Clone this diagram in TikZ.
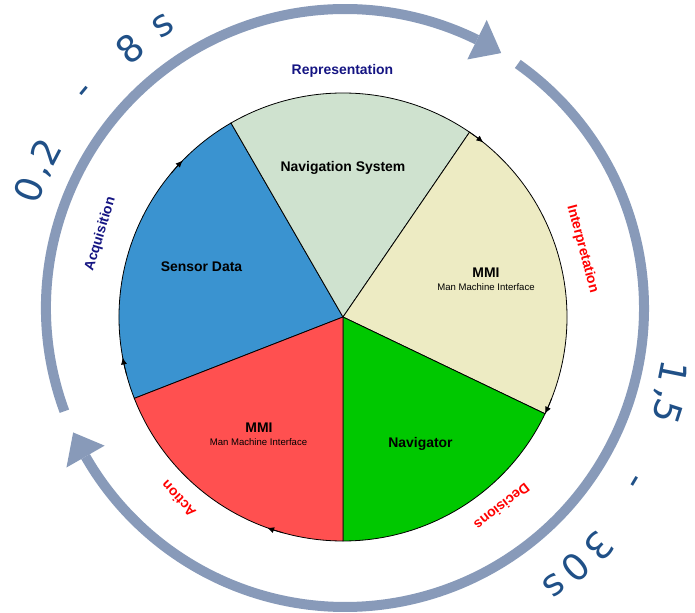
\documentclass[tikz,border=0pt]{standalone}
\usepackage{fontspec}
\setmainfont{Liberation Sans}
\newfontfamily\ringfont{DejaVu Sans}
\usetikzlibrary{arrows.meta}
\definecolor{ringc}{RGB}{136,154,185}
\definecolor{ringtxt}{RGB}{32,80,135}
\definecolor{cblue}{RGB}{58,147,208}
\definecolor{clgreen}{RGB}{207,226,207}
\definecolor{cbeige}{RGB}{237,235,195}
\definecolor{cgreen}{RGB}{0,200,0}
\definecolor{cred}{RGB}{255,80,80}
\definecolor{navyc}{RGB}{20,20,130}
\definecolor{lred}{RGB}{255,0,0}
\begin{document}
\begin{tikzpicture}[x=1bp,y=1bp,
  wedge/.style={draw=black, line width=0.8bp},
  rtxt/.style={anchor=base, inner sep=0pt, text=ringtxt, font=\ringfont\fontsize{37}{37}\selectfont},
  phase/.style={inner sep=0pt, font=\bfseries\fontsize{14}{16}\selectfont},
  plabel/.style={inner sep=0pt, font=\bfseries\fontsize{14}{16}\selectfont},
  psub/.style={inner sep=0pt, font=\fontsize{9.6}{11}\selectfont},
  ringarc/.style={draw=ringc, line width=10bp},
  cyc/.style={line width=0.8bp, -{Latex[length=7bp,width=6bp]}}]
\useasboundingbox (0,0) rectangle (695,613);
\coordinate (P) at (343,296);
\coordinate (R) at (345,305);
% pie wedges
\filldraw[wedge, fill=cblue] (P) -- ([shift={(P)}]120:224bp) arc[start angle=120, end angle=201.3, radius=224bp] -- cycle;
\filldraw[wedge, fill=clgreen] (P) -- ([shift={(P)}]55.6:224bp) arc[start angle=55.6, end angle=120, radius=224bp] -- cycle;
\filldraw[wedge, fill=cbeige] (P) -- ([shift={(P)}]-25.6:224bp) arc[start angle=-25.6, end angle=55.6, radius=224bp] -- cycle;
\filldraw[wedge, fill=cgreen] (P) -- ([shift={(P)}]-90:224bp) arc[start angle=-90, end angle=-25.6, radius=224bp] -- cycle;
\filldraw[wedge, fill=cred] (P) -- ([shift={(P)}]201.3:224bp) arc[start angle=201.3, end angle=270, radius=224bp] -- cycle;
% small arrowheads on the pie rim
\draw[cyc] ([shift={(P)}]140:224bp) arc[start angle=140, end angle=135.7, radius=224bp];
\draw[cyc] ([shift={(P)}]55.5:224bp) arc[start angle=55.5, end angle=51.2, radius=224bp];
\draw[cyc] ([shift={(P)}]-21.3:224bp) arc[start angle=-21.3, end angle=-25.6, radius=224bp];
\draw[cyc] ([shift={(P)}]254.5:224bp) arc[start angle=254.5, end angle=250.2, radius=224bp];
\draw[cyc] ([shift={(P)}]194.7:224bp) arc[start angle=194.7, end angle=190.4, radius=224bp];
% pie labels
\node[plabel] (sd) at (201.5,346) {Sensor Data};
\node[plabel] (ns) at (343,445) {Navigation System};
\node[plabel] (m1) at (486,340) {MMI};
\node[psub] (m1s) at (486,326.3) {Man Machine Interface};
\node[plabel] (nv) at (420.5,169) {Navigator};
\node[plabel] (m2) at (259,185.5) {MMI};
\node[psub] (m2s) at (258.5,170.5) {Man Machine Interface};
% phase labels
\node[phase, text=navyc] (rep) at (342.5,542.5) {Representation};
\node[phase, text=navyc, rotate=73] (acq) at (100.5,379) {Acquisition};
\node[phase, text=lred, rotate=-75] (int) at (582.5,364) {Interpretation};
\node[phase, text=lred, rotate=-142] (dec) at (502,106.5) {Decisions};
\node[phase, text=lred, rotate=133] (act) at (178.5,114) {Action};
% outer ring arrows
\draw[ringarc] ([shift={(R)}]200.2:299bp) arc[start angle=200.2, end angle=63.8, radius=299bp];
\fill[ringc] ([shift={(R)}]63.8:321bp) -- ([shift={(R)}]58.5:299bp) -- ([shift={(R)}]63.8:277bp) -- cycle;
\draw[ringarc] ([shift={(R)}]54.7:299bp) arc[start angle=54.7, end angle=-150.2, radius=299bp];
\fill[ringc] ([shift={(R)}]209.8:321bp) -- ([shift={(R)}]204.6:299bp) -- ([shift={(R)}]209.8:277bp) -- cycle;
% ring texts
\node[rtxt, rotate=69.5] (a1) at ([shift={(R)}]159.5:324bp) {0};
\node[rtxt, rotate=65.2] (a2) at ([shift={(R)}]155.6:326bp) {,};
\node[rtxt, rotate=62.4] (a3) at ([shift={(R)}]152.4:324bp) {2};
\node[rtxt, rotate=50.2] (a4) at ([shift={(R)}]140.2:329bp) {-};
\node[rtxt, rotate=39.7] (a5) at ([shift={(R)}]129.7:324bp) {8};
\node[rtxt, rotate=32.8] (a6) at ([shift={(R)}]122.8:326bp) {s};
\node[rtxt, rotate=-101.2] (b1) at ([shift={(R)}]-11.2:321bp) {1};
\node[rtxt, rotate=-105.9] (b2) at ([shift={(R)}]-15.2:324bp) {,};
\node[rtxt, rotate=-107.8] (b3) at ([shift={(R)}]-17.8:325bp) {5};
\node[rtxt, rotate=-120.9] (b4) at ([shift={(R)}]-30.9:327bp) {-};
\node[rtxt, rotate=-133.2] (b5) at ([shift={(R)}]-43.2:335bp) {3};
\node[rtxt, rotate=-138.4] (b6) at ([shift={(R)}]-48.4:334bp) {0};
\node[rtxt, rotate=-143] (b7) at ([shift={(R)}]-53:337bp) {s};
\end{tikzpicture}
\end{document}
